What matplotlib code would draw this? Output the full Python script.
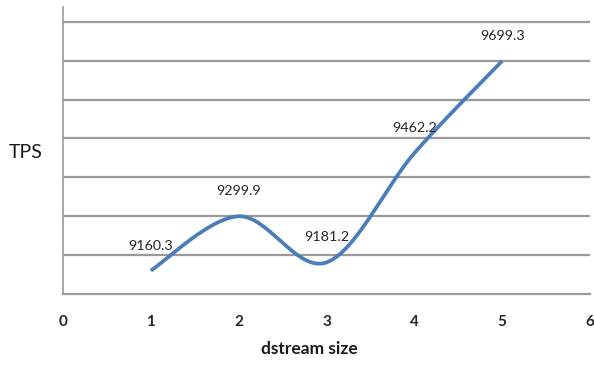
import numpy as np
import matplotlib
matplotlib.use("Agg")
import matplotlib.pyplot as plt

# Throughput per dstream size
dstream_size = [1, 2, 3, 4, 5]
tps = [9160.3, 9299.9, 9181.2, 9462.2, 9699.3]
x_ticks = [0, 1, 2, 3, 4, 5, 6]
grid_levels = [9200, 9300, 9400, 9500, 9600, 9700, 9800]

LINE = "#4A7EBB"
GRID = "#9a9a9a"
TEXT = "#262626"


def smooth_curve(xs, ys, n=60):
    """Cardinal-spline style smoothing through every point (Bezier segments)."""
    p = np.column_stack([xs, ys]).astype(float)
    pts = []
    for i in range(len(p) - 1):
        p0 = p[i - 1] if i > 0 else p[i]
        p1, p2 = p[i], p[i + 1]
        p3 = p[i + 2] if i + 2 < len(p) else p[i + 1]
        c1 = p1 + (p2 - p0) / 6.0
        c2 = p2 - (p3 - p1) / 6.0
        t = np.linspace(0, 1, n)[:, None]
        seg = ((1 - t) ** 3) * p1 + 3 * ((1 - t) ** 2) * t * c1 \
            + 3 * (1 - t) * t ** 2 * c2 + t ** 3 * p2
        pts.append(seg if i == 0 else seg[1:])
    pts = np.vstack(pts)
    return pts[:, 0], pts[:, 1]


fig = plt.figure(figsize=(5.94, 3.70), dpi=100)
ax = fig.add_axes([63 / 594, 1 - 294 / 370, (590 - 63) / 594, (294 - 7) / 370])

ax.set_xlim(0, 6)
ax.set_ylim(9100, 9838)

for g in grid_levels:
    ax.axhline(g, color=GRID, lw=1.6, zorder=1)

sx, sy = smooth_curve(dstream_size, tps)
ax.plot(sx, sy, color=LINE, lw=2.7, solid_capstyle="butt", zorder=3)

for xv, yv in zip(dstream_size, tps):
    ax.annotate(f"{yv:.1f}", (xv, yv), xytext=(0, 18), textcoords="offset points",
                ha="center", va="center", fontsize=10.3, color=TEXT,
                family="Lato", zorder=4)

for side in ("top", "right"):
    ax.spines[side].set_visible(False)
ax.spines["left"].set_color(GRID)
ax.spines["left"].set_linewidth(1.2)
ax.spines["bottom"].set_color(GRID)
ax.spines["bottom"].set_linewidth(1.6)

ax.set_yticks([])
ax.set_xticks(x_ticks)
ax.set_xticklabels([str(t) for t in x_ticks], family="Lato", fontsize=11,
                   fontweight="bold", color=TEXT)
ax.tick_params(axis="x", length=0, pad=15)

fig.text(309 / 594, 1 - 349 / 370, "dstream size", family="Lato", fontsize=12.5,
         fontweight="bold", color="#1a1a1a", ha="center", va="center")
fig.text(26 / 594, 1 - 152 / 370, "TPS", family="Lato", fontsize=14,
         color="#1a1a1a", ha="center", va="center")

fig.savefig("out.png", dpi=100)
